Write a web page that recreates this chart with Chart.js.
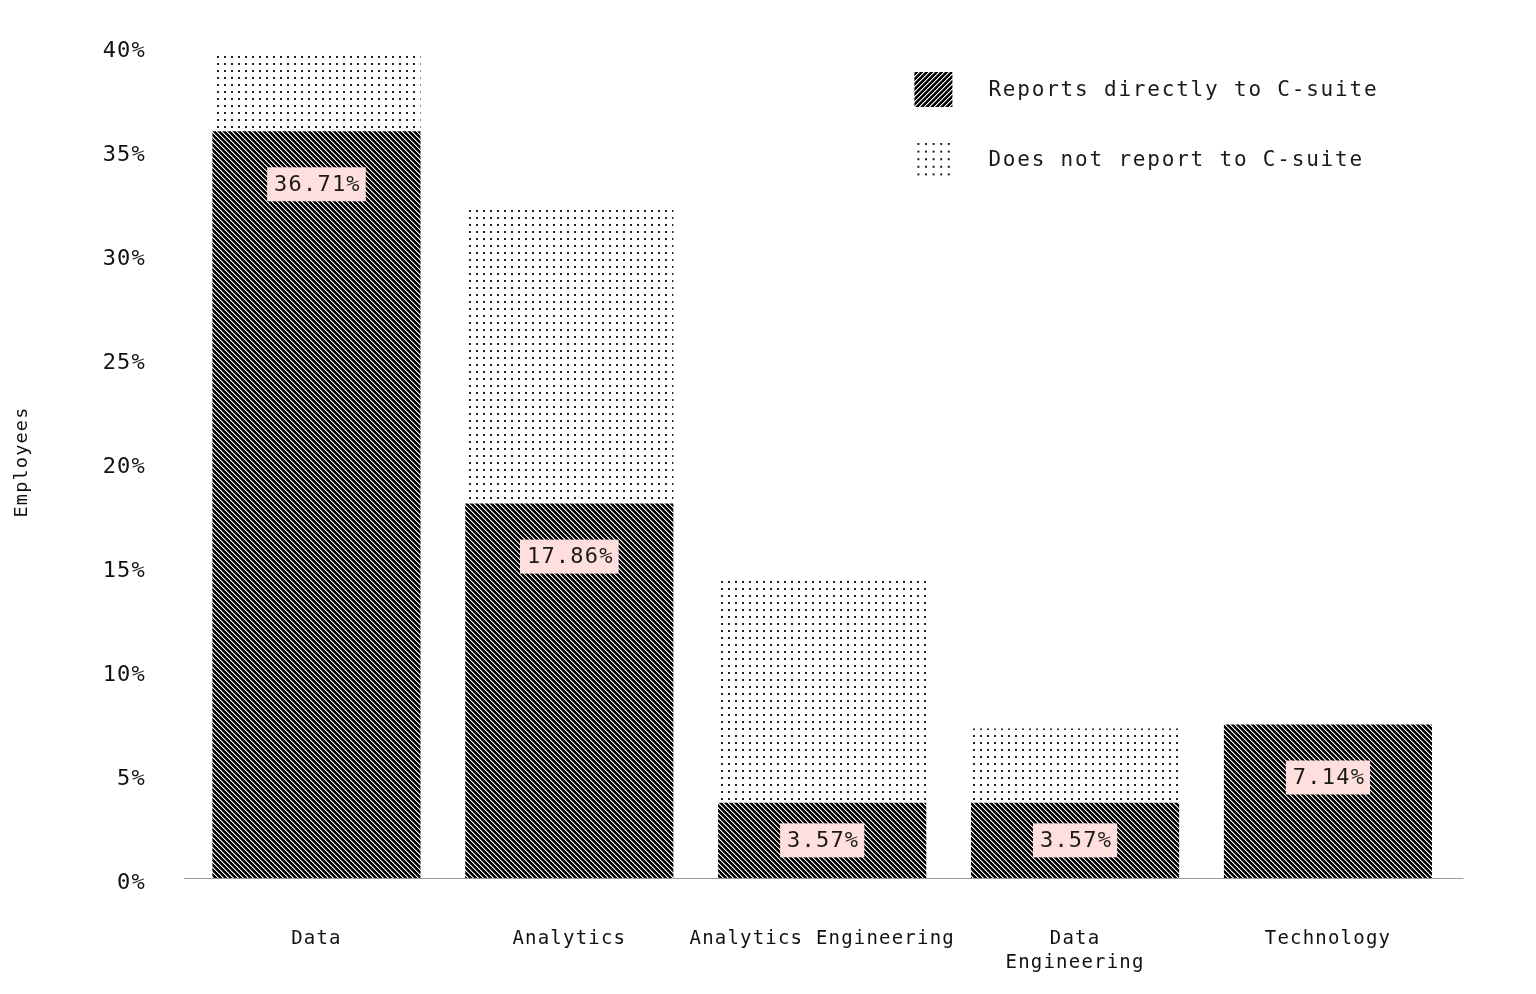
<!DOCTYPE html>
<html>
<head>
<meta charset="utf-8">
<title>Reporting line by team</title>
<script src="https://cdn.jsdelivr.net/npm/chart.js@4.4.1/dist/chart.umd.min.js"></script>
<style>
  html, body { margin: 0; padding: 0; background: #fff; }
  #wrap { width: 1536px; height: 994px; }
</style>
</head>
<body>
<div id="wrap"><canvas id="chart" width="1536" height="994"></canvas></div>
<script>
// data
const categories = ['Data', 'Analytics', 'Analytics Engineering', ['Data', 'Engineering'], 'Technology'];
const reportsDirectly = [35.9, 18.0, 3.62, 3.62, 7.38];
const doesNotReport = [3.66, 14.19, 10.88, 3.57, 0];
const reportLabels = ['36.71%', '17.86%', '3.57%', '3.57%', '7.14%'];
const yTicks = [0, 5, 10, 15, 20, 25, 30, 35, 40];
const seriesNames = ['Reports directly to C-suite', 'Does not report to C-suite'];

const FONT = "'DejaVu Sans Mono', monospace";
Chart.defaults.font.family = FONT;
Chart.defaults.color = '#111';

// pixel tiles for the fills
function makeTile(w, h, paint) {
  const c = document.createElement('canvas');
  c.width = w; c.height = h;
  const g = c.getContext('2d');
  paint(g);
  return document.createElement('canvas').getContext('2d').createPattern(c, 'repeat');
}

function hatch(dir) {
  return makeTile(5, 5, g => {
    g.fillStyle = '#000';
    g.fillRect(0, 0, 5, 5);
    for (let x = 0; x < 5; x++) {
      for (let y = 0; y < 5; y++) {
        const k = ((dir > 0 ? x - y : x + y) % 5 + 5) % 5;
        if (k === 0) { g.fillStyle = '#fff'; g.fillRect(x, y, 1, 1); }
        else if (k === 1) { g.fillStyle = '#777'; g.fillRect(x, y, 1, 1); }
      }
    }
  });
}

const barHatch = hatch(1);
const legendHatch = hatch(-1);
const dots = makeTile(7, 7, g => {
  g.fillStyle = '#222';
  g.fillRect(0, 0, 2, 2);
});

// letter spacing so the mono font runs as wide as the original one
const spacing = {
  id: 'spacing',
  beforeUpdate(chart) { chart.ctx.letterSpacing = '1.2px'; },
  beforeDraw(chart) { chart.ctx.letterSpacing = '1.2px'; }
};

const baseline = {
  id: 'baseline',
  afterDatasetsDraw(chart) {
    const { ctx, chartArea } = chart;
    const y = Math.round(chart.scales.y.getPixelForValue(0)) + 0.5;
    ctx.save();
    ctx.strokeStyle = '#9a9a9a';
    ctx.lineWidth = 1;
    ctx.beginPath();
    ctx.moveTo(chartArea.left - 6, y);
    ctx.lineTo(chartArea.right + 9, y);
    ctx.stroke();
    ctx.restore();
  }
};

const valueLabels = {
  id: 'valueLabels',
  afterDatasetsDraw(chart) {
    const { ctx } = chart;
    const meta = chart.getDatasetMeta(0);
    ctx.save();
    ctx.letterSpacing = '1.2px';
    ctx.font = '22px ' + FONT;
    ctx.textAlign = 'center';
    ctx.textBaseline = 'middle';
    meta.data.forEach((bar, i) => {
      const text = reportLabels[i];
      const y = Math.min(bar.y + 53, (bar.y + bar.base) / 2);
      const w = ctx.measureText(text).width + 12;
      ctx.fillStyle = 'rgb(255,222,222)';
      ctx.fillRect(bar.x - w / 2, y - 17, w, 34);
      ctx.fillStyle = '#1a1a1a';
      ctx.fillText(text, bar.x + 1, y + 1);
    });
    ctx.restore();
  }
};

const legendBox = {
  id: 'legendBox',
  afterDraw(chart) {
    const { ctx, chartArea } = chart;
    const x = chartArea.right - 540;
    const y = chartArea.top + 26;
    ctx.save();
    ctx.letterSpacing = '1.8px';
    ctx.font = '21px ' + FONT;
    ctx.textBaseline = 'middle';
    ctx.fillStyle = legendHatch;
    ctx.fillRect(x, y, 38, 35);
    ctx.fillStyle = '#222';
    for (let r = 0; r < 5; r++) {
      for (let c = 0; c < 5; c++) {
        ctx.fillRect(x + 3 + c * 7.6, y + 71 + r * 7.6, 2, 2);
      }
    }
    ctx.fillStyle = '#1a1a1a';
    ctx.fillText(seriesNames[0], x + 74, y + 19);
    ctx.fillText(seriesNames[1], x + 74, y + 89);
    ctx.restore();
  }
};

new Chart(document.getElementById('chart'), {
  type: 'bar',
  data: {
    labels: categories,
    datasets: [
      {
        label: seriesNames[0],
        data: reportsDirectly,
        backgroundColor: barHatch,
        borderWidth: 0,
        barPercentage: 0.823,
        categoryPercentage: 1
      },
      {
        label: seriesNames[1],
        data: doesNotReport,
        backgroundColor: dots,
        borderWidth: 0,
        barPercentage: 0.823,
        categoryPercentage: 1
      }
    ]
  },
  options: {
    responsive: false,
    devicePixelRatio: 1,
    animation: false,
    events: [],
    layout: { padding: { top: 46, right: 81.6, bottom: 0, left: 0 } },
    plugins: {
      legend: { display: false },
      tooltip: { enabled: false }
    },
    scales: {
      x: {
        stacked: true,
        // invisible tick marks stand in for the label gap
        grid: { display: false, drawTicks: true, tickLength: 49 },
        border: { display: false },
        ticks: {
          padding: 0,
          maxRotation: 0,
          autoSkip: false,
          font: { size: 19, lineHeight: 1.28 },
          color: '#111'
        },
        afterFit(scale) { scale.height = 116; }
      },
      y: {
        stacked: true,
        min: 0,
        max: 40,
        grid: { display: false, drawTicks: true, tickLength: 44 },
        border: { display: false },
        afterBuildTicks(scale) { scale.ticks = yTicks.map(v => ({ value: v })); },
        ticks: {
          padding: 0,
          labelOffset: 5,
          font: { size: 22 },
          color: '#111',
          callback: v => v + '%'
        },
        title: {
          display: true,
          text: 'Employees',
          font: { size: 18.5 },
          color: '#111',
          padding: { top: 11, bottom: 0 }
        },
        afterFit(scale) { scale.width = 190; }
      }
    }
  },
  plugins: [spacing, baseline, valueLabels, legendBox]
});
</script>
</body>
</html>
